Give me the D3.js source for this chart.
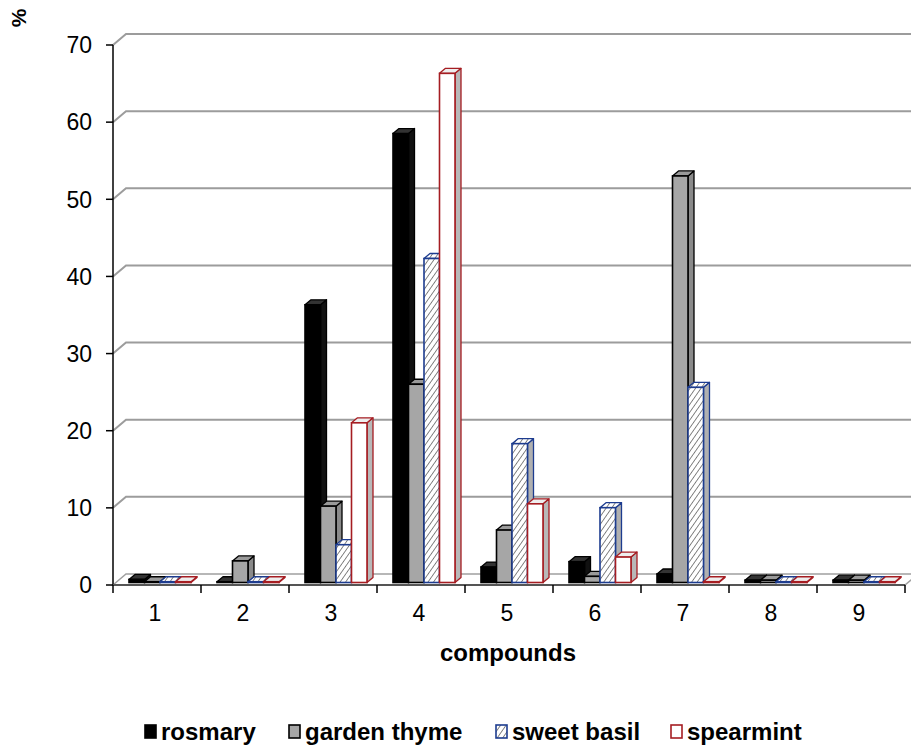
<!DOCTYPE html>
<html>
<head>
<meta charset="utf-8">
<script src="https://cdn.jsdelivr.net/npm/d3@7"></script>
<style>
  body { margin: 0; background: #fff; }
  text { font-family: "Liberation Sans", Arial, sans-serif; }
</style>
</head>
<body>
<div id="chart"></div>
<script>
var categories = ["1", "2", "3", "4", "5", "6", "7", "8", "9"];
var seriesNames = ["rosmary", "garden thyme", "sweet basil", "spearmint"];
var rosmary = [0.4, 0.1, 36, 58.2, 2.0, 2.7, 1.1, 0.3, 0.3];
var gardenThyme = [0.1, 2.8, 9.9, 25.7, 6.8, 0.8, 52.7, 0.3, 0.3];
var sweetBasil = [0.1, 0.1, 4.9, 42, 18, 9.7, 25.3, 0.1, 0.1];
var spearmint = [0.1, 0.1, 20.7, 66, 10.2, 3.3, 0.1, 0.1, 0.1];
var yTicks = [0, 10, 20, 30, 40, 50, 60, 70];

var seriesValues = [rosmary, gardenThyme, sweetBasil, spearmint];

var width = 911, height = 745;
var plotLeft = 113, plotRight = 905, plotTop = 45, plotBottom = 585;
// depth of the 3D box and of one bar
var depthX = 13, depthY = -11;
var barDX = 6, barDY = -5;
var offX = 3, offY = -2.5;

var svg = d3.select("#chart")
    .append("svg")
    .attr("width", width)
    .attr("height", height);

var defs = svg.append("defs");
var hatch = defs.append("pattern")
    .attr("id", "hatch")
    .attr("patternUnits", "userSpaceOnUse")
    .attr("width", 4.5)
    .attr("height", 4.5)
    .attr("patternTransform", "rotate(35)");
hatch.append("rect").attr("width", 4.5).attr("height", 4.5).attr("fill", "#fff");
hatch.append("line")
    .attr("x1", 0).attr("y1", 0).attr("x2", 0).attr("y2", 4.5)
    .attr("stroke", "#7a7a7a").attr("stroke-width", 1.8);

var x = d3.scaleBand()
    .domain(categories)
    .range([plotLeft, plotRight]);

var xs = d3.scaleBand()
    .domain(seriesNames)
    .range([0, 62]);

var y = d3.scaleLinear()
    .domain([0, 70])
    .range([plotBottom, plotTop]);

// floor
svg.append("polygon")
    .attr("points", [[plotLeft, plotBottom], [plotLeft + depthX, plotBottom + depthY],
        [plotRight + depthX, plotBottom + depthY], [plotRight, plotBottom]].join(" "))
    .attr("fill", "#fff")
    .attr("stroke", "#a0a0a0")
    .attr("stroke-width", 1.5);

// gridlines on the left wall and back wall
svg.selectAll(".grid")
    .data(yTicks.slice(1))
    .enter()
    .append("polyline")
    .attr("points", function(d) {
        return [[plotLeft, y(d)], [plotLeft + depthX, y(d) + depthY], [width + 10, y(d) + depthY]].join(" ");
    })
    .attr("fill", "none")
    .attr("stroke", "#9c9c9c")
    .attr("stroke-width", 2);

// bars
var styles = [
    {front: "#000", side: "#111", topc: "#333", stroke: "#000"},
    {front: "#a6a6a6", side: "#8a8a8a", topc: "#9a9a9a", stroke: "#000"},
    {front: "url(#hatch)", side: "#b0b0b0", topc: "url(#hatch)", stroke: "#1d3c8f"},
    {front: "#fff", side: "#b8b8b8", topc: "#eee", stroke: "#a51d22"}
];

var bars = [];
categories.forEach(function(c, ci) {
    seriesNames.forEach(function(s, si) {
        bars.push({cat: c, series: si, value: seriesValues[si][ci]});
    });
});

var bw = xs.bandwidth();
var g = svg.selectAll(".bar")
    .data(bars)
    .enter()
    .append("g")
    .attr("class", "bar");

function bx(d) { return x(d.cat) + x.bandwidth() / 2 - 31 + xs(seriesNames[d.series]) + offX; }
function by0() { return y(0) + offY; }
function by1(d) { return y(d.value) + offY; }

g.append("polygon")
    .attr("points", function(d) {
        var x0 = bx(d) + bw, y0 = by0(), y1 = by1(d);
        return [[x0, y1], [x0 + barDX, y1 + barDY], [x0 + barDX, y0 + barDY], [x0, y0]].join(" ");
    })
    .attr("fill", function(d) { return styles[d.series].side; })
    .attr("stroke", function(d) { return styles[d.series].stroke; })
    .attr("stroke-width", 1.3)
    .attr("stroke-linejoin", "round");

g.append("polygon")
    .attr("points", function(d) {
        var x0 = bx(d), y1 = by1(d);
        return [[x0, y1], [x0 + barDX, y1 + barDY], [x0 + bw + barDX, y1 + barDY], [x0 + bw, y1]].join(" ");
    })
    .attr("fill", function(d) { return styles[d.series].topc; })
    .attr("stroke", function(d) { return styles[d.series].stroke; })
    .attr("stroke-width", 1.3)
    .attr("stroke-linejoin", "round");

g.append("rect")
    .attr("x", bx)
    .attr("y", by1)
    .attr("width", bw)
    .attr("height", function(d) { return by0() - by1(d); })
    .attr("fill", function(d) { return styles[d.series].front; })
    .attr("stroke", function(d) { return styles[d.series].stroke; })
    .attr("stroke-width", 1.6);

// y axis
svg.append("line")
    .attr("x1", plotLeft).attr("x2", plotLeft)
    .attr("y1", y(70)).attr("y2", y(0))
    .attr("stroke", "#000").attr("stroke-width", 1.5);
svg.selectAll(".ytick")
    .data(yTicks)
    .enter()
    .append("line")
    .attr("x1", plotLeft - 7).attr("x2", plotLeft)
    .attr("y1", function(d) { return y(d); })
    .attr("y2", function(d) { return y(d); })
    .attr("stroke", "#000").attr("stroke-width", 1.5);
svg.selectAll(".ylab")
    .data(yTicks)
    .enter()
    .append("text")
    .attr("x", 92)
    .attr("y", function(d) { return y(d); })
    .attr("dy", "0.36em")
    .attr("text-anchor", "end")
    .attr("font-size", 23)
    .text(function(d) { return d; });

// x axis
svg.append("line")
    .attr("x1", plotLeft).attr("x2", plotRight)
    .attr("y1", plotBottom).attr("y2", plotBottom)
    .attr("stroke", "#555").attr("stroke-width", 2);
svg.selectAll(".xtick")
    .data(categories.concat(["end"]))
    .enter()
    .append("line")
    .attr("x1", function(d) { return d === "end" ? plotRight : x(d); })
    .attr("x2", function(d) { return d === "end" ? plotRight : x(d); })
    .attr("y1", plotBottom).attr("y2", plotBottom + 8)
    .attr("stroke", "#000").attr("stroke-width", 1.5);
svg.selectAll(".xlab")
    .data(categories)
    .enter()
    .append("text")
    .attr("x", function(d) { return x(d) + x.bandwidth() / 2 - 2; })
    .attr("y", 613)
    .attr("dy", "0.36em")
    .attr("text-anchor", "middle")
    .attr("font-size", 23)
    .text(function(d) { return d; });

svg.append("text")
    .attr("x", 508)
    .attr("y", 652)
    .attr("dy", "0.36em")
    .attr("text-anchor", "middle")
    .attr("font-size", 24)
    .attr("font-weight", "bold")
    .text("compounds");

svg.append("text")
    .attr("transform", "translate(18,18) rotate(-90)")
    .attr("dy", "0.36em")
    .attr("text-anchor", "middle")
    .attr("font-size", 21)
    .attr("font-weight", "bold")
    .text("%");

// legend
var legendX = [145, 289, 496, 671];
var legend = svg.selectAll(".legend")
    .data(seriesNames)
    .enter()
    .append("g")
    .attr("transform", function(d, i) { return "translate(" + legendX[i] + ",731)"; });
legend.append("rect")
    .attr("x", 0).attr("y", -6)
    .attr("width", 11).attr("height", 13)
    .attr("fill", function(d, i) { return styles[i].front; })
    .attr("stroke", function(d, i) { return styles[i].stroke; })
    .attr("stroke-width", 1.6);
legend.append("text")
    .attr("x", 16)
    .attr("dy", "0.36em")
    .attr("font-size", 24)
    .attr("font-weight", "bold")
    .text(function(d) { return d; });
</script>
</body>
</html>
